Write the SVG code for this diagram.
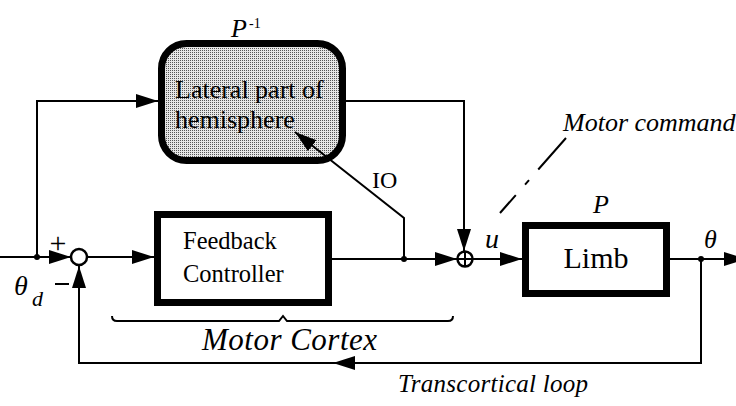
<svg xmlns="http://www.w3.org/2000/svg" width="736" height="406" viewBox="0 0 736 406">
<style>
.ln{fill:none;stroke:#000;stroke-width:2}
.box{fill:#fff;stroke:#000;stroke-width:7}
text{fill:#000}
.i{font-style:italic}
</style>
<defs>
<pattern id="dots" width="2" height="2" patternUnits="userSpaceOnUse">
<rect width="2" height="2" fill="#e6e6e6"/>
<rect width="1" height="1" fill="#555"/>
</pattern>
<marker id="ah" markerUnits="userSpaceOnUse" markerWidth="24" markerHeight="16" refX="22" refY="7" orient="auto">
<path d="M0,0 L22,7 L0,14 z" fill="#000"/>
</marker>
</defs>
<rect width="736" height="406" fill="#fff"/>
<g font-family="'Liberation Serif', 'Times New Roman', serif">
<g id="sum1">
<circle cx="79" cy="257" r="8" fill="#fff" stroke="#000" stroke-width="2.5"/>
<text x="58" y="253" font-size="30" text-anchor="middle">+</text>
<path d="M55,284 L69,284" stroke="#000" stroke-width="2"/>
</g>
<g id="sum2">
<circle cx="465" cy="259" r="7.5" fill="#fff" stroke="#000" stroke-width="2.5"/>
<path d="M457.5,259 L472.5,259 M465,251.5 L465,266.5" stroke="#000" stroke-width="2"/>
</g>
<g id="inverse-model">
<rect x="161.5" y="43.5" width="181" height="117" rx="25" fill="url(#dots)" stroke="#000" stroke-width="7"/>
<text x="175" y="98" font-size="26">Lateral part of</text>
<text x="175" y="128" font-size="26">hemisphere</text>
<text class="i" x="231" y="37" font-size="26">P</text>
<text x="249" y="28" font-size="14">-1</text>
</g>
<g id="feedback-controller">
<rect class="box" x="157.5" y="214.5" width="171" height="88"/>
<text x="183" y="249" font-size="24.5">Feedback</text>
<text x="183" y="282" font-size="24.5">Controller</text>
</g>
<g id="limb">
<rect class="box" x="525.5" y="225.5" width="141" height="68"/>
<text x="596" y="268" font-size="30" text-anchor="middle">Limb</text>
<text class="i" x="593" y="213" font-size="26">P</text>
</g>
<g id="connectors">
<path class="ln" d="M0,257 L71,257" marker-end="url(#ah)"/>
<path class="ln" d="M37,257 L37,101 L158,101" marker-end="url(#ah)"/>
<path class="ln" d="M87,257 L154,257" marker-end="url(#ah)"/>
<path class="ln" d="M332,259 L457,259" marker-end="url(#ah)"/>
<path class="ln" d="M345,101 L464,101 L464,251" marker-end="url(#ah)"/>
<path class="ln" d="M404,259 L404,218 L295,132" marker-end="url(#ah)" stroke-width="2.5"/>
<path class="ln" d="M473,259 L522,259" marker-end="url(#ah)"/>
<path class="ln" d="M670,259 L746,259" marker-end="url(#ah)"/>
<path class="ln" d="M701,259 L701,363 L333,363" marker-end="url(#ah)"/>
<path class="ln" d="M340,363 L79,363 L79,266" marker-end="url(#ah)"/>
<circle cx="37" cy="257" r="3" fill="#000"/>
<circle cx="404" cy="259" r="3" fill="#000"/>
<circle cx="701" cy="259" r="3" fill="#000"/>
<path class="ln" d="M566,138 L500,213" stroke-dasharray="42 14 6 14" stroke-width="1.5"/>
<path class="ln" d="M112,316 Q112,321 117,321 L279,321 L283,316 L287,321 L448,321 Q453,321 453,316" stroke-width="1.5"/>
</g>
<g id="labels">
<text class="i" x="14" y="295" font-size="28">θ</text>
<text class="i" x="32" y="306" font-size="22">d</text>
<text class="i" x="704" y="248" font-size="26">θ</text>
<text class="i" x="485" y="248" font-size="28">u</text>
<text x="372" y="188" font-size="24">IO</text>
<text class="i" x="563" y="131" font-size="26">Motor command</text>
<text class="i" x="202" y="350" font-size="31" textLength="175" lengthAdjust="spacing">Motor Cortex</text>
<text class="i" x="398" y="392" font-size="25" textLength="190" lengthAdjust="spacing">Transcortical loop</text>
</g>
</g>
</svg>
